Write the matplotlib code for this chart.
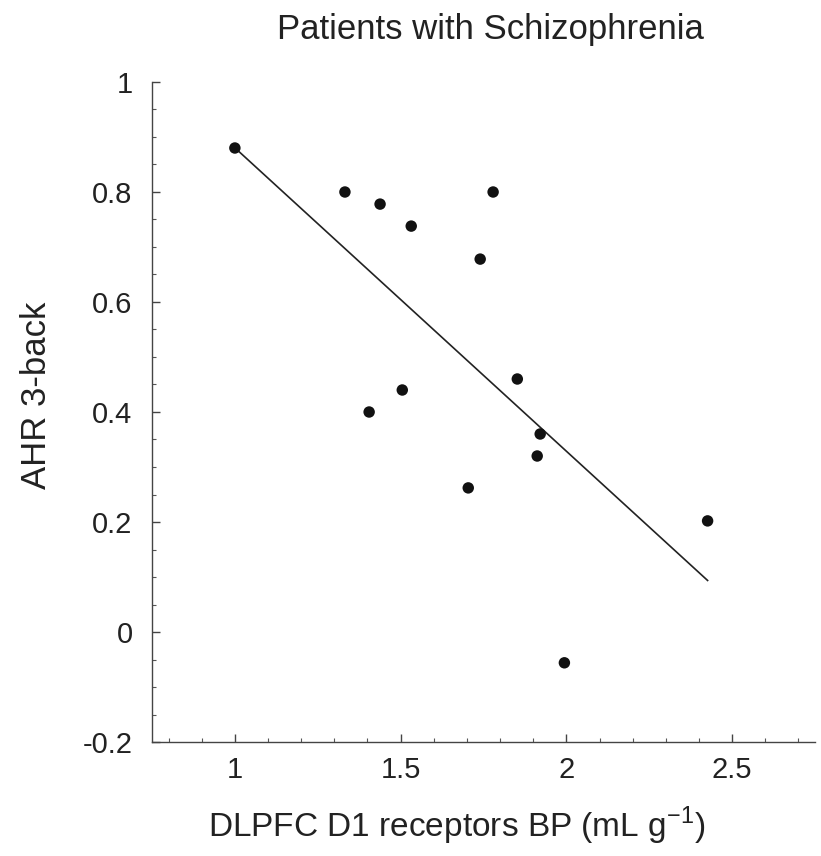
import numpy as np
import matplotlib
matplotlib.use("Agg")
import matplotlib.pyplot as plt
from matplotlib.ticker import MultipleLocator

plt.rcParams['font.family'] = ['Liberation Sans', 'DejaVu Sans']

# D1 receptor binding potential vs. 3-back accuracy
bp = [1.00, 1.332, 1.438, 1.532, 1.779, 1.740, 1.405, 1.505, 1.852,
      1.921, 1.912, 1.704, 1.994, 2.426]
ahr = [0.88, 0.80, 0.778, 0.738, 0.80, 0.678, 0.40, 0.44, 0.46,
       0.36, 0.32, 0.262, -0.056, 0.202]

x_ticks = [1, 1.5, 2, 2.5]
x_tick_labels = ["1", "1.5", "2", "2.5"]
y_ticks = [-0.2, 0, 0.2, 0.4, 0.6, 0.8, 1]
y_tick_labels = ["-0.2", "0", "0.2", "0.4", "0.6", "0.8", "1"]

W, H = 821, 856
fig = plt.figure(figsize=(W / 100, H / 100), dpi=100)
ax = fig.add_axes([152 / W, 1 - 742 / H, (815 - 152) / W, (742 - 82) / H])

# least-squares regression line over the observed range
slope, intercept = np.polyfit(bp, ahr, 1)
xs = np.array([min(bp), max(bp)])
ax.plot(xs, slope * xs + intercept, color='#222222', lw=1.2, zorder=2)

ax.scatter(bp, ahr, s=68, color='#111111', edgecolors='none', zorder=3)

ax.set_xlim(0.75, 2.75)
ax.set_ylim(-0.2, 1.0)
ax.set_xticks(x_ticks)
ax.set_xticklabels(x_tick_labels)
ax.set_yticks(y_ticks)
ax.set_yticklabels(y_tick_labels)
ax.xaxis.set_minor_locator(MultipleLocator(0.1))
ax.yaxis.set_minor_locator(MultipleLocator(0.05))

for side in ('top', 'right'):
    ax.spines[side].set_visible(False)
for side in ('left', 'bottom'):
    ax.spines[side].set_color('#444444')
    ax.spines[side].set_linewidth(1.0)

ax.tick_params(which='major', direction='in', length=6, width=1.0,
               color='#444444', labelsize=21, labelcolor='#222222')
ax.tick_params(axis='x', which='major', pad=10)
ax.tick_params(axis='y', which='major', pad=14)
ax.tick_params(which='minor', direction='in', length=3, width=0.8,
               color='#555555')

txt = dict(color='#222222', ha='center', va='center')
fig.text(490 / W, 1 - 30 / H, "Patients with Schizophrenia", fontsize=25, **txt)
fig.text(457 / W, 1 - 826 / H,
         r"DLPFC D1 receptors BP (mL g$^{\mathregular{-1}}$)",
         fontsize=24, **txt)
fig.text(37 / W, 1 - 395 / H, "AHR 3-back", fontsize=25, rotation=90, **txt)

fig.savefig("out.png", dpi=100)
